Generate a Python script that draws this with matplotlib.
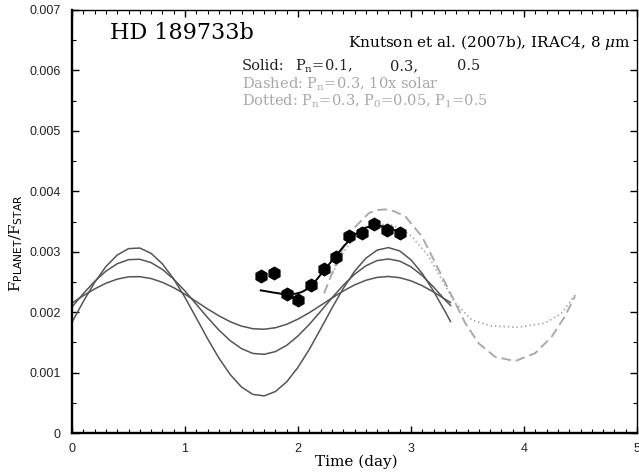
import numpy as np
import matplotlib
matplotlib.use('Agg')
import matplotlib.pyplot as plt
from matplotlib.ticker import MultipleLocator

plt.rcParams['mathtext.fontset'] = 'dejavuserif'

# flux ratio values below are in units of 1e-3
# solid models (Pn = 0.1, 0.3, 0.5)
model_t = [0.0, 0.1, 0.2, 0.3, 0.4, 0.5, 0.6, 0.7, 0.8, 0.9, 1.0, 1.1,
           1.2, 1.3, 1.4, 1.5, 1.6, 1.7, 1.8, 1.9, 2.0, 2.1, 2.2, 2.3,
           2.4, 2.5, 2.6, 2.7, 2.8, 2.9, 3.0, 3.1, 3.2, 3.3, 3.35]
model_pn01 = [1.834, 2.175, 2.490, 2.754, 2.945, 3.051, 3.061, 2.973, 2.799,
              2.549, 2.243, 1.903, 1.560, 1.240, 0.967, 0.761, 0.639, 0.614,
              0.686, 0.847, 1.087, 1.384, 1.721, 2.065, 2.390, 2.674, 2.891,
              3.026, 3.068, 3.013, 2.865, 2.638, 2.346, 2.017, 1.845]
model_pn03 = [2.086, 2.306, 2.508, 2.678, 2.801, 2.869, 2.875, 2.819, 2.707,
              2.546, 2.349, 2.130, 1.910, 1.704, 1.528, 1.396, 1.317, 1.302,
              1.347, 1.451, 1.606, 1.797, 2.013, 2.235, 2.444, 2.626, 2.766,
              2.853, 2.880, 2.844, 2.750, 2.604, 2.415, 2.204, 2.110]
model_pn05 = [2.151, 2.272, 2.384, 2.478, 2.546, 2.584, 2.587, 2.556, 2.494,
              2.405, 2.296, 2.175, 2.053, 1.939, 1.842, 1.769, 1.726, 1.717,
              1.742, 1.799, 1.885, 1.991, 2.111, 2.233, 2.349, 2.450, 2.527,
              2.575, 2.590, 2.570, 2.518, 2.437, 2.333, 2.216, 2.160]

# dashed model: Pn=0.3, 10x solar
dashed_t = [2.231, 2.30, 2.363, 2.43, 2.51, 2.628, 2.70, 2.775, 2.85, 2.951,
            3.098, 3.216, 3.363, 3.48, 3.598, 3.745, 3.921, 4.098, 4.244,
            4.362, 4.45]
dashed_y = [2.31, 2.64, 2.92, 3.18, 3.42, 3.64, 3.69, 3.70, 3.67, 3.58,
            3.25, 2.81, 2.26, 1.82, 1.485, 1.26, 1.19, 1.32, 1.59,
            1.93, 2.26]

# dotted model: Pn=0.3, P0=0.05, P1=0.5
dotted_t = [2.304, 2.39, 2.48, 2.57, 2.657, 2.75, 2.833, 2.92, 3.01, 3.157,
            3.274, 3.392, 3.539, 3.715, 3.95, 4.186, 4.33, 4.465]
dotted_y = [2.64, 2.95, 3.20, 3.35, 3.42, 3.45, 3.44, 3.37, 3.25, 2.92,
            2.53, 2.15, 1.87, 1.77, 1.75, 1.82, 1.98, 2.31]

# Knutson et al. (2007b) 8 micron points
obs_t = [1.673, 1.784, 1.899, 2.004, 2.119, 2.231, 2.337, 2.451, 2.563,
         2.675, 2.787, 2.899]
obs_y = [2.60, 2.65, 2.30, 2.20, 2.455, 2.71, 2.91, 3.26, 3.31, 3.46,
         3.36, 3.31]

# black fit through the points
fit_t = [1.67, 1.72, 1.78, 1.85, 1.92, 1.98, 2.03, 2.08, 2.14, 2.2, 2.3,
         2.4, 2.5, 2.6, 2.7, 2.8, 2.9]
fit_y = [2.36, 2.345, 2.325, 2.305, 2.30, 2.305, 2.33, 2.38, 2.48, 2.62,
         2.85, 3.08, 3.28, 3.40, 3.44, 3.40, 3.32]

xticks = [0, 1, 2, 3, 4, 5]
yticks = [0, 0.001, 0.002, 0.003, 0.004, 0.005, 0.006, 0.007]
ytick_labels = ['0', '0.001', '0.002', '0.003', '0.004', '0.005', '0.006', '0.007']

s = 1e-3
fig = plt.figure(figsize=(6.39, 4.76), dpi=100)
ax = fig.add_axes([72 / 639, 43 / 476, 565 / 639, 423 / 476])

for ys in (model_pn01, model_pn03, model_pn05):
    ax.plot(model_t, np.array(ys) * s, color='#555555', lw=1.1)
ax.plot(dashed_t, np.array(dashed_y) * s, color='#aaaaaa', lw=1.4,
        dashes=(5, 2.5))
ax.plot(dotted_t, np.array(dotted_y) * s, color='#aaaaaa', lw=1.3,
        dashes=(0.8, 1.6))
ax.plot(fit_t, np.array(fit_y) * s, color='black', lw=1.4)
ax.plot(obs_t, np.array(obs_y) * s, 'h', color='black', ms=9, mec='black')

ax.set_xlim(0, 5)
ax.set_ylim(0, 0.007)
ax.set_xticks(xticks)
ax.set_yticks(yticks)
ax.set_yticklabels(ytick_labels)
ax.xaxis.set_minor_locator(MultipleLocator(0.1))
ax.yaxis.set_minor_locator(MultipleLocator(0.0005))
ax.tick_params(which='both', direction='in', top=True, right=True,
               labelsize=9, labelcolor='#222222')
ax.tick_params(which='major', length=5, width=1)
ax.tick_params(which='minor', length=3, width=0.8)
ax.tick_params(axis='y', pad=8)
ax.tick_params(axis='x', pad=7)
for lab in ax.get_xticklabels() + ax.get_yticklabels():
    lab.set_family('Liberation Sans')
for side in ('left', 'bottom'):
    ax.spines[side].set_linewidth(1.7)
for side in ('top', 'right'):
    ax.spines[side].set_linewidth(1.0)

ax.set_xlabel('Time (day)', family='DejaVu Serif', fontsize=11)
ax.xaxis.set_label_coords(0.503, -0.052)
ax.set_ylabel(r'F$_{\mathsf{PLANET}}$/F$_{\mathsf{STAR}}$',
              family='DejaVu Serif', fontsize=11)
ax.yaxis.set_label_coords(-0.083, 0.449)

ax.text(0.067, 0.946, 'HD 189733b', transform=ax.transAxes,
        family='DejaVu Serif', fontsize=16, va='center')
ax.text(0.988, 0.922, r'Knutson et al. (2007b), IRAC4, 8 $\mu$m',
        transform=ax.transAxes, family='DejaVu Serif', fontsize=11,
        ha='right', va='center')

dark, light = '#222222', '#a8a8a8'
fs = 10.5
ax.text(0.301, 0.868, 'Solid:', transform=ax.transAxes, family='DejaVu Serif',
        fontsize=fs, color=dark, va='center')
ax.text(0.3947, 0.868, r'P$_{\rm n}$=0.1,', transform=ax.transAxes,
        family='DejaVu Serif', fontsize=fs, color=dark, va='center')
ax.text(0.5628, 0.868, '0.3,', transform=ax.transAxes, family='DejaVu Serif',
        fontsize=fs, color=dark, va='center')
ax.text(0.6814, 0.868, '0.5', transform=ax.transAxes, family='DejaVu Serif',
        fontsize=fs, color=dark, va='center')
ax.text(0.301, 0.825, r'Dashed: P$_{\rm n}$=0.3, 10x solar',
        transform=ax.transAxes, family='DejaVu Serif', fontsize=fs,
        color=light, va='center')
ax.text(0.301, 0.783,
        r'Dotted: P$_{\rm n}$=0.3, P$_{\rm 0}$=0.05, P$_{\rm 1}$=0.5',
        transform=ax.transAxes, family='DejaVu Serif', fontsize=fs,
        color=light, va='center')

fig.savefig('out.png', dpi=100)
